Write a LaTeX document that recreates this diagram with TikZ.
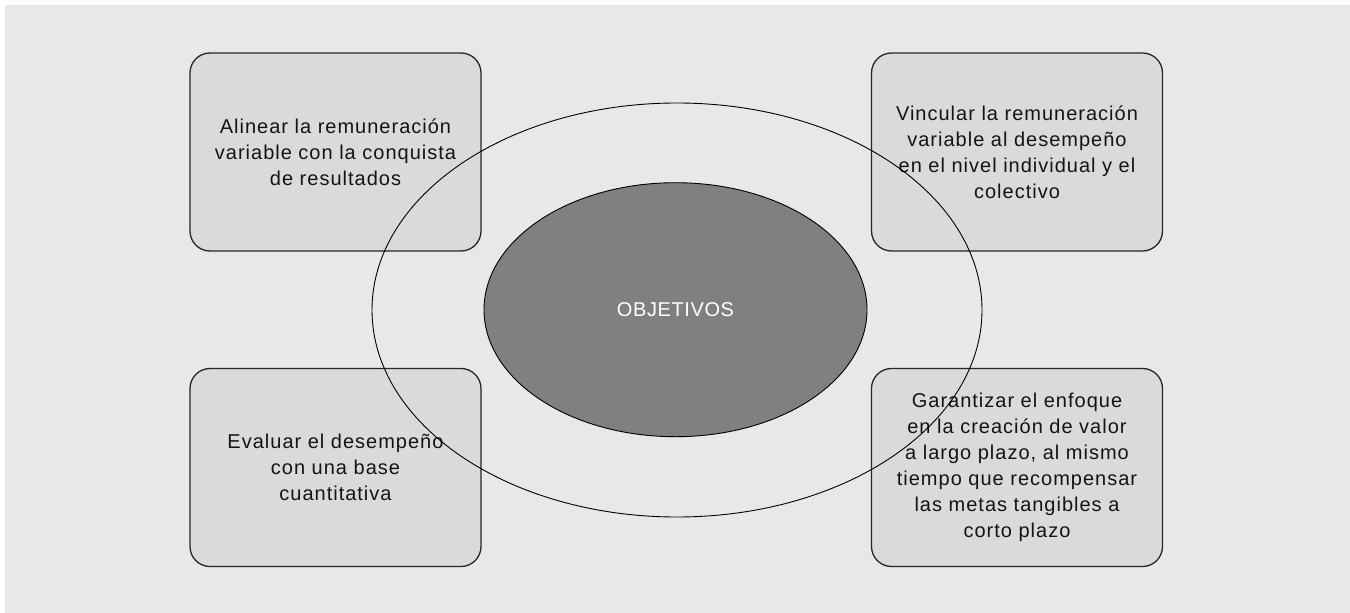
\documentclass[tikz,border=0pt]{standalone}
\usepackage{fontspec}
\setmainfont{Liberation Sans}
\newfontfamily\boxfont[LetterSpace=5]{Liberation Sans}
\newfontfamily\corefont[LetterSpace=3]{Liberation Sans}
\usetikzlibrary{shapes.geometric}
\definecolor{bggray}{HTML}{E8E8E8}
\definecolor{boxgray}{HTML}{DADADA}
\definecolor{midgray}{HTML}{808080}
\definecolor{txt}{HTML}{141414}
\tikzset{
  goalbox/.style={draw=black!85, line width=1.3bp, fill=boxgray, rounded corners=20bp,
    minimum width=291bp, minimum height=198bp, inner sep=0pt, align=center,
    font=\boxfont\fontsize{20bp}{26bp}\selectfont, text=txt},
  ring/.style={ellipse, draw=black, line width=0.9bp, inner sep=0pt},
}
\begin{document}
\begin{tikzpicture}[x=1bp,y=-1bp]
\useasboundingbox (0,0) rectangle (1350,613);
\fill[bggray] (5,5) rectangle (1360,625);
\node[goalbox] (tl) at (335.5,152) {Alinear la remuneración\\variable con la conquista\\de resultados};
\node[goalbox] (tr) at (1017,152) {Vincular la remuneración\\variable al desempeño\\en el nivel individual y el\\colectivo};
\node[goalbox] (bl) at (335.5,467.5) {Evaluar el desempeño\\con una base\\cuantitativa};
\node[goalbox] (br) at (1017,467.5) {Garantizar el enfoque\\en la creación de valor\\a largo plazo, al mismo\\tiempo que recompensar\\las metas tangibles a\\corto plazo};
\node[ring, minimum width=610bp, minimum height=414bp] (outer) at (677,310) {};
\node[ring, fill=midgray, minimum width=383bp, minimum height=254bp, text=white,
  font=\corefont\fontsize{20bp}{22bp}\selectfont] (core) at (675.5,309.7) {OBJETIVOS};
\end{tikzpicture}
\end{document}
